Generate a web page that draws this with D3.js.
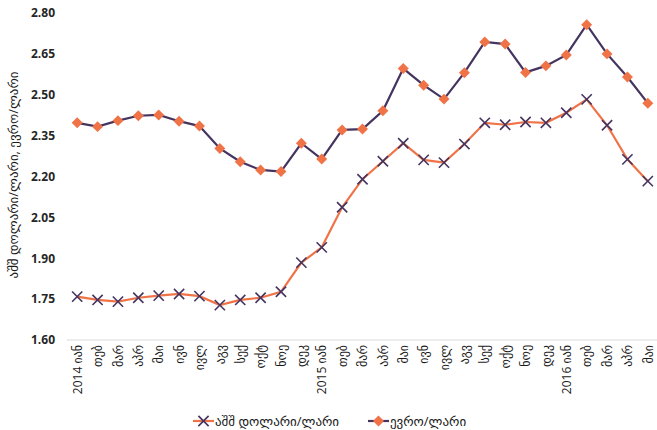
<!DOCTYPE html>
<html>
<head>
<meta charset="utf-8">
<script src="https://cdn.jsdelivr.net/npm/d3@7"></script>
<style>
  body { margin: 0; background: #fff; }
  .chart text { font-family: "Open Sans", "DejaVu Sans", sans-serif; }
  .y-axis text { font-weight: bold; font-size: 12px; fill: #262626; }
  .x-axis text { font-size: 12px; fill: #1a1a1a; }
</style>
</head>
<body>
<div class="chart"></div>
<script>
// months Jan 2014 - May 2016
const months = ["2014 იან","თებ","მარ","აპრ","მაი","ივნ","ივლ","აგვ","სექ","ოქტ","ნოე","დეკ",
    "2015 იან","თებ","მარ","აპრ","მაი","ივნ","ივლ","აგვ","სექ","ოქტ","ნოე","დეკ",
    "2016 იან","თებ","მარ","აპრ","მაი"];

const usd = [1.759, 1.747, 1.741, 1.755, 1.763, 1.769, 1.761, 1.728, 1.747, 1.755, 1.777, 1.884,
    1.940, 2.087, 2.190, 2.256, 2.322, 2.261, 2.251, 2.319, 2.397, 2.390, 2.400, 2.397,
    2.434, 2.483, 2.388, 2.263, 2.183];

const eur = [2.397, 2.383, 2.405, 2.423, 2.426, 2.403, 2.385, 2.303, 2.254, 2.224, 2.218, 2.322,
    2.264, 2.371, 2.374, 2.441, 2.596, 2.535, 2.484, 2.581, 2.694, 2.686, 2.582, 2.606,
    2.646, 2.757, 2.650, 2.565, 2.469];

const yTicks = [1.60, 1.75, 1.90, 2.05, 2.20, 2.35, 2.50, 2.65, 2.80];

const usdName = "აშშ დოლარი/ლარი";
const eurName = "ევრო/ლარი";
const yTitle = "აშშ დოლარი/ლარი, ევრო/ლარი";

const orange = "#f07348", purple = "#45345f";

const width = 657, height = 430;
const margin = {top: 13, right: 0, bottom: 90, left: 67};

const svg = d3.select(".chart").append("svg")
    .attr("width", width)
    .attr("height", height);

const idx = d3.range(months.length);

const xScale = d3.scalePoint()
    .domain(idx)
    .range([margin.left, 658])
    .padding(0.5);

const yScale = d3.scaleLinear()
    .domain([1.6, 2.8])
    .range([height - margin.bottom, margin.top]);

// y axis, no line
const yAxis = d3.axisLeft(yScale)
    .tickValues(yTicks)
    .tickFormat(d3.format(".2f"))
    .tickSize(0)
    .tickPadding(8);

svg.append("g")
    .attr("class", "y-axis")
    .attr("transform", "translate(" + (margin.left - 4) + ",0)")
    .call(yAxis)
    .call(g => g.select(".domain").remove());

// x axis
const xAxis = d3.axisBottom(xScale)
    .tickFormat(i => months[i])
    .tickSize(0)
    .tickPadding(0);

const xg = svg.append("g")
    .attr("class", "x-axis")
    .attr("transform", "translate(0," + yScale(1.6) + ")")
    .call(xAxis);

xg.select(".domain")
    .attr("d", "M" + margin.left + ",0H" + width)
    .attr("stroke", "#d9d9d9");

xg.selectAll(".tick text")
    .attr("transform", "rotate(-90)")
    .attr("text-anchor", "end")
    .attr("x", -5)
    .attr("y", 0)
    .attr("dy", "0.35em");

// y title
svg.append("text")
    .attr("transform", "translate(18," + (margin.top + 162) + ") rotate(-90)")
    .attr("text-anchor", "middle")
    .style("font-size", "13px")
    .style("fill", "#1a1a1a")
    .text(yTitle);

const line = d3.line()
    .x((d, i) => xScale(i))
    .y(d => yScale(d));

// euro line
svg.append("path")
    .datum(eur)
    .attr("fill", "none")
    .attr("stroke", purple)
    .attr("stroke-width", 2.2)
    .attr("d", line);

// usd line
svg.append("path")
    .datum(usd)
    .attr("fill", "none")
    .attr("stroke", orange)
    .attr("stroke-width", 2.2)
    .attr("d", line);

const cross = d3.symbol().type(d3.symbolX).size(70);
const diamond = d3.symbol().type(d3.symbolSquare).size(60);

svg.append("g").selectAll("path")
    .data(usd)
    .enter().append("path")
    .attr("d", cross)
    .attr("transform", (d, i) => "translate(" + xScale(i) + "," + yScale(d) + ")")
    .attr("fill", "none")
    .attr("stroke", purple)
    .attr("stroke-width", 1.6);

svg.append("g").selectAll("path")
    .data(eur)
    .enter().append("path")
    .attr("d", diamond)
    .attr("transform", (d, i) => "translate(" + xScale(i) + "," + yScale(d) + ") rotate(45)")
    .attr("fill", orange);

// legend
const legend = svg.append("g")
    .attr("transform", "translate(0,421)");

const l1 = legend.append("g").attr("transform", "translate(193,0)");
l1.append("line").attr("x1", 0).attr("x2", 21).attr("stroke", orange).attr("stroke-width", 2.2);
l1.append("path").attr("d", cross).attr("transform", "translate(10.5,0)")
    .attr("fill", "none").attr("stroke", purple).attr("stroke-width", 1.6);
l1.append("text").attr("x", 22).attr("dy", "0.35em")
    .style("font-size", "13px").style("fill", "#1a1a1a").text(usdName);

const l2 = legend.append("g").attr("transform", "translate(368,0)");
l2.append("line").attr("x1", 0).attr("x2", 21).attr("stroke", purple).attr("stroke-width", 2.2);
l2.append("path").attr("d", diamond).attr("transform", "translate(10.5,0) rotate(45)")
    .attr("fill", orange);
l2.append("text").attr("x", 22).attr("dy", "0.35em")
    .style("font-size", "13px").style("fill", "#1a1a1a").text(eurName);
</script>
</body>
</html>
